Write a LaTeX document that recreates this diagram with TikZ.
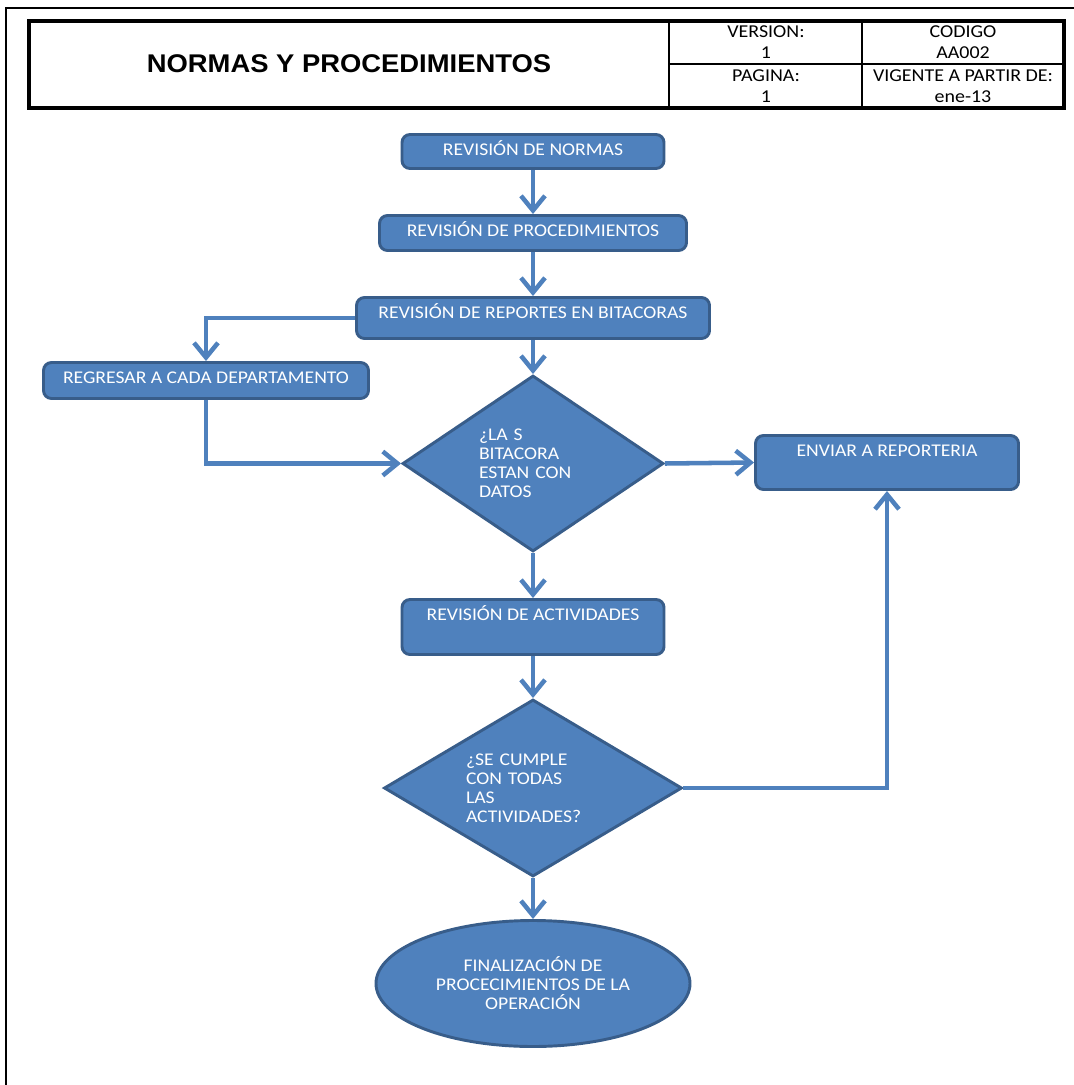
\documentclass[tikz,border=0pt]{standalone}
\usepackage{fontspec}
\setmainfont{Carlito}[FakeStretch=1.1]
\newfontfamily\titlefont{Liberation Sans}[FakeStretch=1.07]
\usepackage{tikz}
\usetikzlibrary{shapes.geometric, arrows.meta, positioning}
\definecolor{flowblue}{RGB}{79, 129, 189}
\definecolor{flowedge}{RGB}{56, 93, 138}

\begin{document}
\begin{tikzpicture}[
    x=0.75pt, y=-0.75pt,
    box/.style={rectangle, draw=flowedge, line width=2.2pt, fill=flowblue, rounded corners=6pt, text=white, align=center, inner xsep=2pt, inner ysep=0pt, text height=15.75pt, font=\fontsize{13.4pt}{14.25pt}\selectfont},
    decision/.style={diamond, draw=flowedge, line width=2.2pt, fill=flowblue, text=white, align=left, inner sep=0pt, font=\fontsize{13.4pt}{14.25pt}\selectfont},
    terminal/.style={ellipse, draw=flowedge, line width=2.2pt, fill=flowblue, text=white, align=center, inner sep=0pt, font=\fontsize{13.4pt}{14.25pt}\selectfont},
    cell/.style={align=center, inner sep=0pt, font=\fontsize{13.6pt}{15.75pt}\selectfont},
    arrow/.style={-{Straight Barb[length=11pt, width=18pt]}, line width=3.4pt, flowblue}
]
    \useasboundingbox (0,0) rectangle (1074,1085);

    % Page frame and header
    \draw[line width=1.5pt] (6,1085) -- (6,8) -- (1074,8);
    \draw[line width=3pt] (29,21) rectangle (1064,108);
    \draw[line width=2pt] (669,21) -- (669,108);
    \draw[line width=2pt] (862,21) -- (862,108);
    \draw[line width=2pt] (669,64) -- (1064,64);

    \node[inner sep=0pt, font=\titlefont\bfseries\fontsize{19.2pt}{20pt}\selectfont] (title) at (349,64) {NORMAS Y PROCEDIMIENTOS};
    \node[cell] (version) at (766,42) {VERSION:\\1};
    \node[cell] (codigo) at (963,42) {CODIGO\\AA002};
    \node[cell] (pagina) at (766,86) {PAGINA:\\1};
    \node[cell] (vigente) at (963,86) {VIGENTE A PARTIR DE:\\ene-13};

    % Main flow
    \node[box, minimum width=196.5pt, text depth=9.75pt] (normas) at (533,151.5) {REVISIÓN DE NORMAS};
    \node[box, minimum width=230.25pt, text depth=10.5pt] (proced) at (533,233) {REVISIÓN DE PROCEDIMIENTOS};
    \node[box, minimum width=264.75pt, text depth=15pt] (reportes) at (533,318) {REVISIÓN DE REPORTES EN BITACORAS};
    \node[decision, minimum width=195.75pt, minimum height=132pt, aspect=1.47, text width=81pt] (bitacora) at (533,463.5) {¿LA S\\BITACORA\\ESTAN CON\\DATOS};
    \node[box, minimum width=196.5pt, text depth=25.5pt] (activ) at (533,627) {REVISIÓN DE ACTIVIDADES};
    \node[decision, minimum width=223.5pt, minimum height=132.75pt, aspect=1.68, text width=100.5pt] (cumple) at (533,788) {¿SE CUMPLE\\CON TODAS\\LAS\\ACTIVIDADES?};
    \node[terminal, minimum width=235.5pt, minimum height=94.5pt] (final) at (533,983.5) {FINALIZACIÓN DE\\PROCECIMIENTOS DE LA\\OPERACIÓN};

    % Side branches
    \node[box, minimum width=243.75pt, text depth=11.25pt] (regresar) at (206,380.5) {REGRESAR A CADA DEPARTAMENTO};
    \node[box, minimum width=197.25pt, text depth=24.75pt] (enviar) at (887,462.5) {ENVIAR A REPORTERIA};

    \draw[arrow] (normas.south) -- (proced.north);
    \draw[arrow] (proced.south) -- (reportes.north);
    \draw[arrow] (reportes.west) -| (regresar.north);
    \draw[arrow] (reportes.south) -- (bitacora.north);
    \draw[arrow] (regresar.south) |- (bitacora.west);
    \draw[arrow] (bitacora.east) -- (enviar.west);
    \draw[arrow] (bitacora.south) -- (activ.north);
    \draw[arrow] (activ.south) -- (cumple.north);
    \draw[arrow] (cumple.east) -| (enviar.south);
    \draw[arrow] (cumple.south) -- (final.north);

\end{tikzpicture}
\end{document}
